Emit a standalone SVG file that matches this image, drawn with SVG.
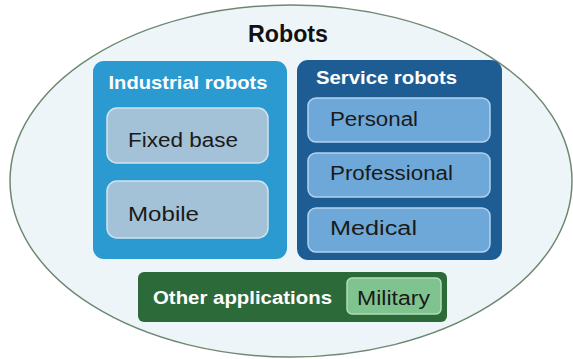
<svg xmlns="http://www.w3.org/2000/svg" width="573" height="359" viewBox="0 0 573 359">
<style>
.t{font-family:"Liberation Sans",Arial,sans-serif;}
.h{font-weight:bold;fill:#ffffff;font-size:19px;}
.n{fill:#1a1a1a;font-size:20px;}
.ind{fill:#a3c1d7;stroke:#d2e3ef;stroke-width:1.5;}
.srv{fill:#6ea8d9;stroke:#b2d2ef;stroke-width:1.5;}
</style>
<rect width="573" height="359" fill="#ffffff"/>
<g id="robots">
<ellipse cx="291" cy="181" rx="281" ry="176" fill="#eef5f8" stroke="#6f8872" stroke-width="1.5"/>
<text class="t" x="288" y="42" text-anchor="middle" font-size="23" font-weight="bold" fill="#111" textLength="80" lengthAdjust="spacingAndGlyphs">Robots</text>
</g>
<g id="industrial">
<rect x="93" y="61" width="194" height="198" rx="11" fill="#2a9ad0"/>
<text class="t h" x="188" y="89" text-anchor="middle" textLength="159" lengthAdjust="spacingAndGlyphs">Industrial robots</text>
</g>
<g id="fixed-base">
<rect class="ind" x="107" y="108" width="161" height="55" rx="10"/>
<text class="t n" x="128" y="147" textLength="110" lengthAdjust="spacingAndGlyphs">Fixed base</text>
</g>
<g id="mobile">
<rect class="ind" x="107" y="181" width="161" height="57" rx="10"/>
<text class="t n" x="128" y="221" textLength="71" lengthAdjust="spacingAndGlyphs">Mobile</text>
</g>
<g id="service">
<rect x="297" y="60" width="205" height="200" rx="11" fill="#1e5d94"/>
<text class="t h" x="316" y="84" textLength="141" lengthAdjust="spacingAndGlyphs">Service robots</text>
</g>
<g id="personal">
<rect class="srv" x="308" y="98" width="182" height="44" rx="8"/>
<text class="t n" x="330" y="126" textLength="88" lengthAdjust="spacingAndGlyphs">Personal</text>
</g>
<g id="professional">
<rect class="srv" x="308" y="153" width="182" height="44" rx="8"/>
<text class="t n" x="330" y="180" textLength="123" lengthAdjust="spacingAndGlyphs">Professional</text>
</g>
<g id="medical">
<rect class="srv" x="308" y="208" width="182" height="44" rx="8"/>
<text class="t n" x="330" y="235" textLength="87" lengthAdjust="spacingAndGlyphs">Medical</text>
</g>
<g id="other">
<rect x="138" y="272" width="309" height="50" rx="6" fill="#2d6a3a"/>
<text class="t" x="153" y="304" font-size="18" font-weight="bold" fill="#ffffff" textLength="179" lengthAdjust="spacingAndGlyphs">Other applications</text>
</g>
<g id="military">
<rect x="347" y="278" width="94" height="36" rx="5" fill="#7fc48e" stroke="#b0dcb8" stroke-width="1.5"/>
<text class="t" x="357" y="305" font-size="20" fill="#1a1a1a" textLength="73" lengthAdjust="spacingAndGlyphs">Military</text>
</g>
<g id="connectors"/>
</svg>
